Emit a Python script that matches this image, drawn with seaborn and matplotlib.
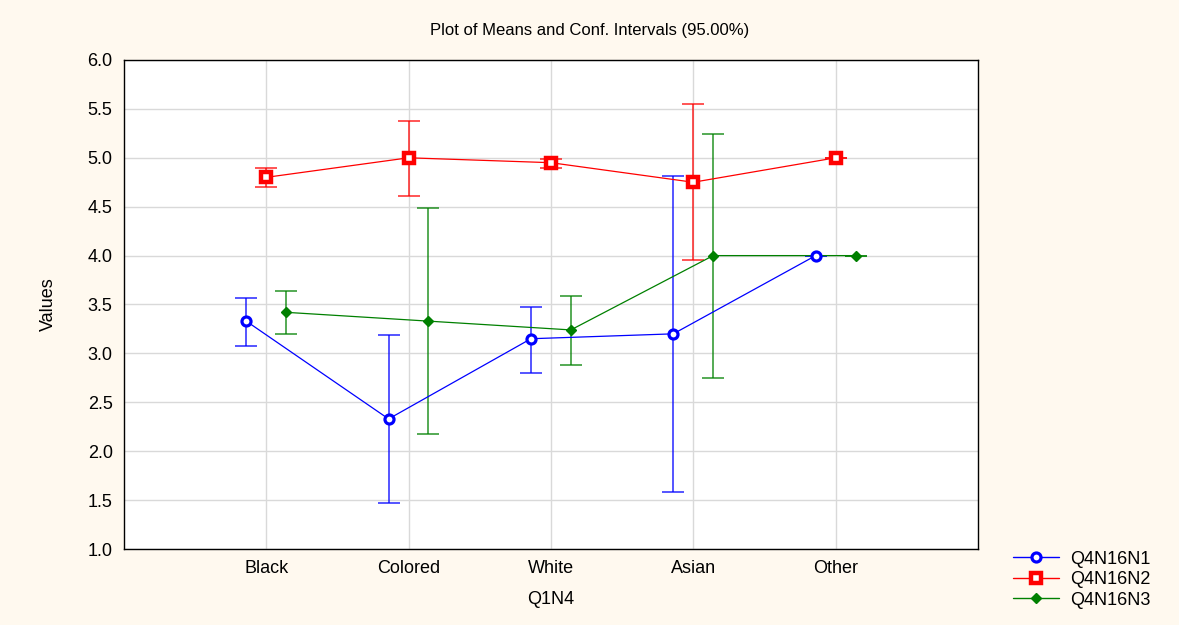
import numpy as np
import pandas as pd
import seaborn as sns
import matplotlib.pyplot as plt
from matplotlib.lines import Line2D

# data
categories = ["Black", "Colored", "White", "Asian", "Other"]
series = ["Q4N16N1", "Q4N16N2", "Q4N16N3"]

n1_mean = [3.33, 2.33, 3.15, 3.20, 4.00]
n1_low = [3.08, 1.47, 2.80, 1.58, 4.00]
n1_high = [3.57, 3.19, 3.47, 4.81, 4.00]

n2_mean = [4.80, 5.00, 4.95, 4.75, 5.00]
n2_low = [4.70, 4.61, 4.90, 3.95, 5.00]
n2_high = [4.90, 5.38, 4.99, 5.55, 5.00]

n3_mean = [3.42, 3.33, 3.24, 4.00, 4.00]
n3_low = [3.20, 2.18, 2.88, 2.75, 4.00]
n3_high = [3.64, 4.49, 3.59, 5.24, 4.00]

colors = {"Q4N16N1": "#0000ff", "Q4N16N2": "#ff0000", "Q4N16N3": "#008000"}
offsets = {"Q4N16N1": -0.14, "Q4N16N2": 0.0, "Q4N16N3": 0.14}

# long table
rows = []
for s, m, lo, hi in [("Q4N16N1", n1_mean, n1_low, n1_high),
                     ("Q4N16N2", n2_mean, n2_low, n2_high),
                     ("Q4N16N3", n3_mean, n3_low, n3_high)]:
    for i, c in enumerate(categories):
        rows.append({"series": s, "cat": c, "x": i + 1 + offsets[s],
                     "mean": m[i], "low": lo[i], "high": hi[i]})
df = pd.DataFrame(rows)

sns.set_style("white")
plt.rcParams['font.family'] = ['Liberation Sans Narrow', 'Liberation Sans', 'DejaVu Sans']
plt.rcParams['text.color'] = 'black'
plt.rcParams['axes.labelcolor'] = 'black'

fig = plt.figure(figsize=(11.79, 6.25), dpi=100, facecolor="#fff9ef")
ax = fig.add_axes([0.105, 0.1216, 0.7245, 0.7824])
ax.set_facecolor("white")

# lines
sns.lineplot(data=df, x="x", y="mean", hue="series", palette=colors,
             estimator=None, sort=True, linewidth=0.9, legend=False, ax=ax, zorder=3)

# error bars
for s in series:
    d = df[df["series"] == s]
    ax.errorbar(d["x"], d["mean"],
                yerr=[d["mean"] - d["low"], d["high"] - d["mean"]],
                fmt="none", ecolor=colors[s], elinewidth=1.1, capsize=8,
                capthick=1.1, alpha=0.85, zorder=2)

# markers
mk = {"Q4N16N1": dict(marker="o", ms=6.5, mfc="white", mew=2.3),
      "Q4N16N2": dict(marker="s", ms=7, mfc="white", mew=3.2),
      "Q4N16N3": dict(marker="D", ms=5.5, mfc=colors["Q4N16N3"], mew=1)}
for s in series:
    d = df[df["series"] == s]
    ax.plot(d["x"], d["mean"], linestyle="none", color=colors[s],
            mec=colors[s], zorder=4, **mk[s])

ax.set_xlim(0, 6)
ax.set_ylim(1.0, 6.0)
ax.set_xticks(range(1, 6))
ax.set_xticklabels(categories)
ax.set_yticks(np.arange(1.0, 6.01, 0.5))
ax.set_yticklabels([f"{v:.1f}" for v in np.arange(1.0, 6.01, 0.5)], family="Liberation Sans")
ax.grid(True, color="#d9d9d9", linewidth=1)
ax.set_axisbelow(True)
ax.tick_params(axis="both", direction="in", length=4, labelsize=13, pad=8,
               colors="black", labelcolor="black")
for sp in ax.spines.values():
    sp.set_color("black")
    sp.set_linewidth(1)

ax.set_xlabel("Q1N4", fontsize=13, labelpad=10)
ax.set_ylabel("Values", fontsize=13, labelpad=22)
fig.text(0.5, 0.952, "Plot of Means and Conf. Intervals (95.00%)", ha="center",
         va="center", fontsize=12, family="Liberation Sans")

handles = [Line2D([], [], color=colors[s], mec=colors[s], linewidth=1, **mk[s]) for s in series]
fig.legend(handles, series, loc="lower left", bbox_to_anchor=(0.845, 0.0),
           frameon=False, handlelength=2.6, handletextpad=0.6, labelspacing=0.2,
           prop={"family": "Liberation Sans", "size": 13})

fig.savefig("out.png", dpi=100, facecolor=fig.get_facecolor())
